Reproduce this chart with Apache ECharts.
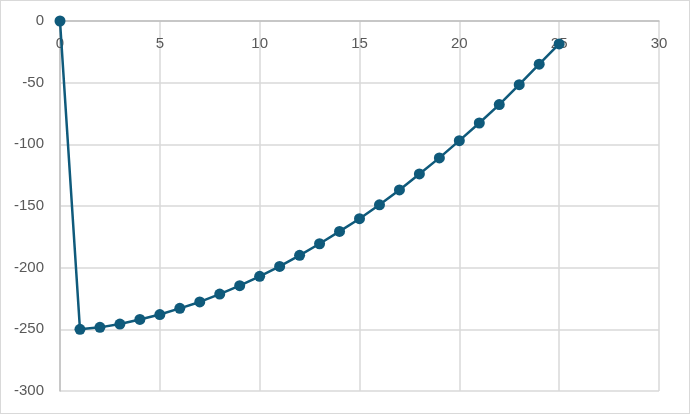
<!DOCTYPE html>
<html>
<head>
<meta charset="utf-8">
<script src="https://cdn.jsdelivr.net/npm/echarts@6/dist/echarts.min.js"></script>
<style>
html,body{margin:0;padding:0;background:#fff;}
#c{width:688px;height:412px;border:1px solid #d9d9d9;}
</style>
</head>
<body>
<div id="c"></div>
<script>
var xValues = [0,1,2,3,4,5,6,7,8,9,10,11,12,13,14,15,16,17,18,19,20,21,22,23,24,25];
var yValues = [0,-250,-248.4,-245.7,-242,-238,-233,-227.8,-221.4,-214.6,-207,-199,-190,-180.6,-170.6,-160.3,-149,-137,-124,-111,-97,-82.7,-67.8,-51.6,-35,-18.6];

var chart = echarts.init(document.getElementById('c'));
var pts = xValues.map(function(x,i){return [x, yValues[i]];});
chart.setOption({
  animation:false,
  grid:{left:59,right:30,top:20,bottom:22,containLabel:false},
  xAxis:{type:'value',min:0,max:30,interval:5,position:'top',
    axisLine:{show:true,lineStyle:{color:'#bfbfbf',width:1.5}},
    axisTick:{show:false},
    splitLine:{show:true,lineStyle:{color:'#d9d9d9',width:1.5}},
    axisLabel:{inside:true,color:'#595959',fontSize:15,fontFamily:'Liberation Sans',margin:15}
  },
  yAxis:{type:'value',min:-300,max:0,interval:50,
    axisLine:{show:true,lineStyle:{color:'#bfbfbf',width:1.5}},
    axisTick:{show:false},
    splitLine:{show:true,lineStyle:{color:'#d9d9d9',width:1.5}},
    axisLabel:{color:'#595959',fontSize:15,fontFamily:'Liberation Sans',margin:16}
  },
  series:[{type:'line',data:pts,symbol:'circle',symbolSize:11,
    lineStyle:{color:'#0f5a7b',width:2.5},
    itemStyle:{color:'#0f5a7b'}}]
});
</script>
</body>
</html>
